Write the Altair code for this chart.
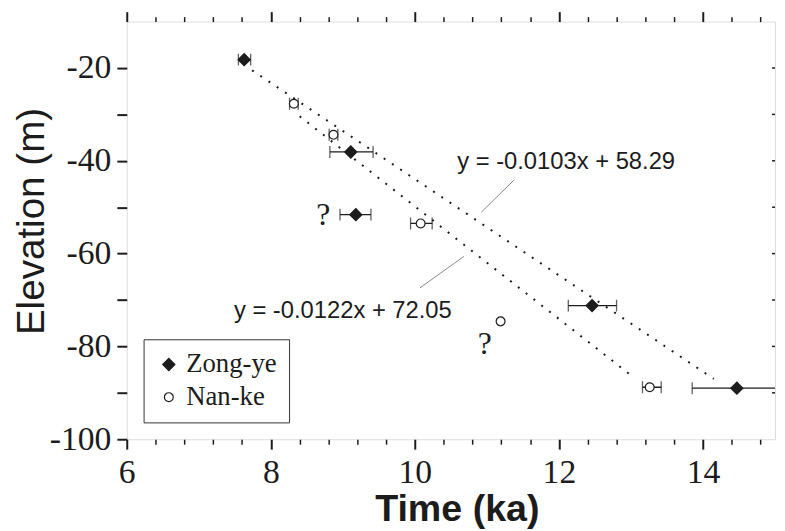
import altair as alt
import pandas as pd

# ---------------- data ----------------
series_names = ["Zong-ye", "Nan-ke"]

zong_t = [7.63, 9.11, 9.18, 12.46, 14.47]
zong_elev = [-18.2, -38.1, -51.6, -71.2, -89.0]
zong_lo = [7.55, 8.82, 8.96, 12.13, 13.85]
zong_hi = [7.72, 9.42, 9.39, 12.80, 15.30]

nan_t = [8.32, 8.87, 10.08, 11.19, 13.26]
nan_elev = [-27.7, -34.4, -53.5, -74.6, -88.8]
nan_lo = [8.26, 8.81, 9.94, None, 13.16]
nan_hi = [8.38, 8.93, 10.24, None, 13.42]

trend1_t = [7.74, 14.15]
trend1_elev = [-20.5, -87.0]
trend2_t = [8.40, 13.04]
trend2_elev = [-30.4, -86.7]

leader1_t = [11.38, 10.92]
leader1_elev = [-44.1, -51.1]
leader2_t = [10.68, 10.07]
leader2_elev = [-60.6, -67.4]

eq_text = ["y = -0.0103x + 58.29", "y = -0.0122x + 72.05"]
eq_t = [12.10, 9.00]
eq_elev = [-41.8, -73.8]

q_text = ["?", "?"]
q_t = [8.73, 10.97]
q_elev = [-53.9, -81.7]

x_major = [6, 8, 10, 12, 14]
x_minor = [6.4, 6.8, 7.2, 7.6, 8.4, 8.8, 9.2, 9.6, 10.4, 10.8, 11.2, 11.6,
           12.4, 12.8, 13.2, 13.6, 14.4, 14.8]
y_ticks = [-100, -90, -80, -70, -60, -50, -40, -30, -20]
right_ticks = [-90, -80, -70, -60, -50, -40, -30, -20]

# ---------------- tables ----------------
pts = pd.DataFrame({
    "series": ["Zong-ye"] * len(zong_t) + ["Nan-ke"] * len(nan_t),
    "t": zong_t + nan_t,
    "elev": zong_elev + nan_elev,
    "lo": zong_lo + nan_lo,
    "hi": zong_hi + nan_hi,
})
trend = pd.DataFrame({
    "line": ["a"] * 2 + ["b"] * 2,
    "t": trend1_t + trend2_t,
    "elev": trend1_elev + trend2_elev,
})
leaders = pd.DataFrame({
    "line": ["a"] * 2 + ["b"] * 2,
    "t": leader1_t + leader2_t,
    "elev": leader1_elev + leader2_elev,
})
eqs = pd.DataFrame({"label": eq_text, "t": eq_t, "elev": eq_elev})
qs = pd.DataFrame({"label": q_text, "t": q_t, "elev": q_elev})
rt = pd.DataFrame({"v": right_ticks})

INK = "#1c1c1c"
xs = alt.Scale(domain=[6, 15], nice=False, zero=False)
ys = alt.Scale(domain=[-100, -10], nice=False, zero=False)

ax_bottom_major = alt.Axis(
    orient="bottom", values=x_major, tickSize=10, tickWidth=2, tickColor=INK,
    domain=False, grid=False, labelFont="Liberation Serif", labelFontSize=34,
    labelColor=INK, labelPadding=7, labelBaseline="top", labelFlush=False,
    labelOverlap=False, labelBound=False, labelExpr="'' + datum.value",
    title="Time (ka)", titleFont="Liberation Sans", titleFontWeight="bold",
    titleFontSize=38, titleColor=INK, titleX=333.5, titleY=82,
    titleBaseline="alphabetic", titleAlign="center")
ax_bottom_minor = alt.Axis(
    orient="bottom", values=x_minor, tickSize=5, tickWidth=1.5, tickColor=INK,
    domain=False, grid=False, labels=False, title=None)
ax_top_major = alt.Axis(
    orient="top", values=x_major, tickSize=10, tickWidth=2, tickColor=INK,
    domain=False, grid=False, labels=False, title=None)
ax_top_minor = alt.Axis(
    orient="top", values=x_minor, tickSize=5, tickWidth=1.5, tickColor=INK,
    domain=False, grid=False, labels=False, title=None)
ax_left = alt.Axis(
    orient="left", values=y_ticks, tickSize=10, tickWidth=2, tickColor=INK,
    domain=False, grid=False, labelFont="Liberation Serif", labelFontSize=34,
    labelColor=INK, labelPadding=6,
    labelExpr="datum.value % 20 == 0 ? '' + datum.value : ''",
    labelOverlap=False, labelBound=False, labelFlush=False,
    title="Elevation (m)", titleFont="Liberation Sans", titleFontWeight="normal",
    titleFontSize=39, titleColor=INK, titleX=-84, titleY=201.5, titleAngle=270,
    titleBaseline="alphabetic", titleAlign="center")

errbars = alt.Chart(pts).transform_filter("isValid(datum.lo)").mark_rule(
    color=INK, strokeWidth=1.3, clip=True
).encode(
    x=alt.X("lo:Q", scale=xs, axis=ax_bottom_major),
    x2="hi:Q",
    y=alt.Y("elev:Q", scale=ys, axis=ax_left),
)

caps = alt.Chart(pts).transform_filter("isValid(datum.lo)").transform_fold(
    ["lo", "hi"], as_=["end", "tx"]
).mark_tick(orient="vertical", size=12, thickness=1.3, color=INK, clip=True).encode(
    x=alt.X("tx:Q", scale=xs, axis=ax_bottom_minor),
    y=alt.Y("elev:Q", scale=ys, axis=None),
)

trends = alt.Chart(trend).mark_line(
    color=INK, strokeWidth=2, strokeDash=[2, 8]
).encode(
    x=alt.X("t:Q", scale=xs, axis=ax_top_major),
    y=alt.Y("elev:Q", scale=ys, axis=None),
    detail="line:N",
)

leader_lines = alt.Chart(leaders).mark_line(color="#8a8a8a", strokeWidth=1).encode(
    x=alt.X("t:Q", scale=xs, axis=ax_top_minor),
    y=alt.Y("elev:Q", scale=ys, axis=None),
    detail="line:N",
)

rticks = alt.Chart(rt).mark_rule(color=INK, strokeWidth=1.5).encode(
    x=alt.value(652), x2=alt.value(655),
    y=alt.Y("v:Q", scale=ys, axis=None),
)

leg = alt.Legend(
    orient="none", legendX=17, legendY=321, title=None, fillColor="white",
    strokeColor="#333333", padding=12, labelFont="Liberation Serif",
    labelFontSize=27, labelColor=INK, rowPadding=5, labelOffset=4,
    symbolStrokeWidth=1.2, labelLimit=300)

points = alt.Chart(pts).mark_point(filled=True, strokeWidth=1.2, opacity=1).encode(
    x=alt.X("t:Q", scale=xs, axis=None),
    y=alt.Y("elev:Q", scale=ys, axis=None),
    shape=alt.Shape("series:N", scale=alt.Scale(domain=series_names, range=["diamond", "circle"]), legend=leg),
    fill=alt.Fill("series:N", scale=alt.Scale(domain=series_names, range=[INK, "white"]), legend=leg),
    stroke=alt.Stroke("series:N", scale=alt.Scale(domain=series_names, range=[INK, INK]), legend=leg),
    size=alt.Size("series:N", scale=alt.Scale(domain=series_names, range=[150, 80]), legend=leg),
)

eq_marks = alt.Chart(eqs).mark_text(
    font="Liberation Sans", fontSize=24, color=INK, align="center", baseline="alphabetic"
).encode(
    x=alt.X("t:Q", scale=xs, axis=None),
    y=alt.Y("elev:Q", scale=ys, axis=None),
    text="label:N",
)

q_marks = alt.Chart(qs).mark_text(
    font="Liberation Serif", fontSize=32, color=INK, align="center", baseline="alphabetic"
).encode(
    x=alt.X("t:Q", scale=xs, axis=None),
    y=alt.Y("elev:Q", scale=ys, axis=None),
    text="label:N",
)

chart = alt.layer(
    errbars, caps, trends, leader_lines, rticks, points, eq_marks, q_marks
).resolve_axis(x="independent", y="independent").properties(
    width=655, height=422,
    padding={"left": 120, "top": 11, "right": 2, "bottom": 90},
    autosize=alt.AutoSizeParams(type="none"),
).configure_view(stroke=INK, strokeWidth=2).configure(background="white")

chart.save("out.html", embed_options={"renderer": "svg", "actions": False})
